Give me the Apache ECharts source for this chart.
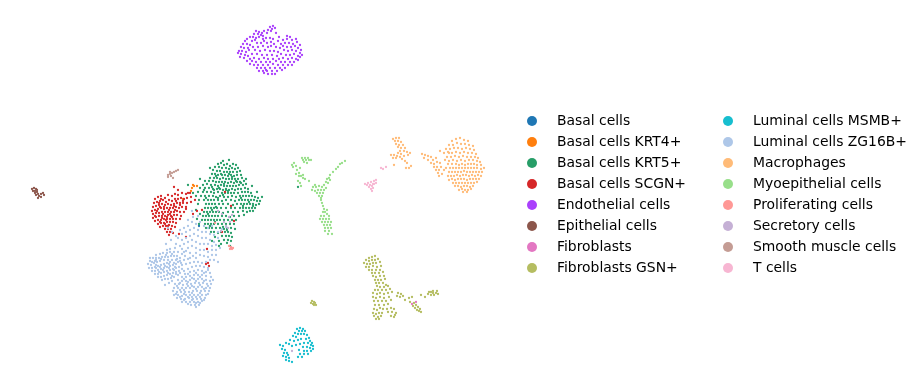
<!DOCTYPE html>
<html>
<head>
<meta charset="utf-8">
<script src="https://cdn.jsdelivr.net/npm/echarts@6/dist/echarts.min.js"></script>
<style>html,body{margin:0;background:#fff}#main{width:922px;height:389px}</style>
</head>
<body>
<div id="main"></div>
<script>
var names = ['Basal cells','Basal cells KRT4+','Basal cells KRT5+','Basal cells SCGN+','Endothelial cells','Epithelial cells','Fibroblasts','Fibroblasts GSN+','Luminal cells MSMB+','Luminal cells ZG16B+','Macrophages','Myoepithelial cells','Proliferating cells','Secretory cells','Smooth muscle cells','T cells'];
var colors = ['#1f77b4','#ff7f0e','#279e68','#d62728','#aa40fc','#8c564b','#e377c2','#b5bd61','#17becf','#aec7e8','#ffbb78','#98df8a','#ff9896','#c5b0d5','#c49c94','#f7b6d2'];

// points, one list per cell type (umap position in picture units)
var basal = [[199,226]];
var krt4 = [[194,186],[192,188],[197,186],[191,191],[193,185],[183,199]];
var krt5 = [[218,164],[221,163],[224,165],[227,164],[230,166],[233,164],[236,165],[215,167],[219,167],[222,168],[226,168],[229,169],[232,168],[235,169],[238,168],[213,170],[217,171],[220,171],[224,172],[227,172],[230,172],[233,172],[237,172],[240,171],[212,174],[215,174],[218,175],[222,175],[225,175],[228,176],[231,175],[234,176],[237,175],[241,175],[210,178],[214,178],[217,178],[220,179],[223,178],[226,179],[229,179],[232,179],[235,179],[238,179],[242,178],[205,181],[209,181],[213,181],[216,182],[219,182],[222,182],[225,182],[228,183],[231,182],[234,183],[237,182],[240,182],[244,181],[203,185],[207,184],[211,185],[215,185],[218,186],[221,185],[224,186],[227,186],[230,186],[233,186],[236,186],[239,185],[243,185],[246,184],[200,188],[205,188],[209,188],[213,189],[217,189],[220,189],[223,190],[226,189],[229,190],[232,189],[235,190],[238,189],[241,189],[245,188],[248,189],[198,192],[203,192],[207,192],[211,192],[214,193],[218,192],[222,193],[225,193],[228,193],[231,193],[234,193],[238,193],[242,192],[245,192],[248,192],[251,193],[196,196],[201,196],[205,196],[209,196],[213,196],[216,197],[220,196],[224,197],[228,197],[232,196],[236,197],[240,196],[243,196],[246,196],[249,196],[252,196],[255,197],[258,198],[199,200],[204,200],[208,200],[211,200],[214,200],[218,200],[222,201],[226,200],[231,200],[235,201],[239,200],[242,200],[245,200],[248,200],[251,200],[254,200],[257,201],[260,201],[206,204],[209,204],[212,204],[215,204],[219,204],[223,204],[228,204],[233,205],[237,204],[241,204],[244,204],[247,204],[250,204],[253,204],[256,205],[259,204],[205,208],[208,208],[211,208],[214,208],[217,208],[221,208],[226,208],[231,208],[235,208],[240,208],[243,208],[246,208],[249,208],[252,208],[255,208],[204,212],[207,212],[210,212],[213,212],[216,212],[219,212],[223,213],[228,212],[233,212],[238,212],[243,211],[247,212],[250,211],[253,211],[203,216],[206,216],[209,216],[212,216],[215,216],[218,216],[222,216],[226,216],[230,217],[234,216],[239,216],[244,215],[202,220],[205,220],[208,220],[211,220],[214,220],[217,220],[220,220],[224,220],[228,220],[232,220],[236,220],[205,224],[208,224],[211,224],[214,224],[218,224],[222,224],[226,224],[230,224],[234,224],[206,228],[209,228],[212,228],[216,228],[220,228],[224,229],[227,228],[231,228],[235,229],[211,232],[214,232],[218,233],[221,232],[225,232],[228,232],[231,233],[222,236],[226,236],[229,236],[232,237],[215,237],[224,240],[228,240],[231,241],[227,243],[212,241],[219,241],[221,244],[204,190],[198,204],[196,210],[200,214],[197,219],[199,224],[230,246],[219,246],[193,193],[188,185],[200,179],[210,168],[246,179],[252,186],[257,192],[262,197],[226,190],[223,195],[216,207],[241,183],[206,198],[212,187],[229,160],[223,161],[298,187],[216,176],[221,174],[232,177],[229,174],[236,181],[224,184],[219,188],[228,191],[241,198],[249,202],[253,206],[243,206],[212,210],[208,214],[215,222],[210,226],[227,230],[223,227],[218,198],[214,190]];
var scgn = [[155,199],[158,197],[161,196],[165,198],[168,195],[172,196],[175,194],[178,195],[182,193],[186,194],[190,193],[154,203],[157,202],[160,201],[163,200],[166,202],[169,200],[172,201],[175,199],[178,199],[181,198],[184,199],[187,198],[191,197],[195,200],[153,207],[156,206],[159,205],[162,204],[165,205],[168,204],[171,205],[174,204],[177,203],[180,203],[183,203],[187,203],[191,202],[152,211],[155,210],[158,209],[161,208],[164,209],[167,208],[170,208],[173,208],[176,207],[179,208],[182,207],[186,207],[153,214],[156,213],[159,213],[162,212],[165,212],[168,212],[171,212],[174,212],[177,211],[180,212],[184,212],[153,218],[156,217],[159,216],[162,216],[165,216],[168,215],[171,216],[174,215],[177,215],[181,216],[155,221],[158,220],[161,220],[164,219],[167,219],[170,219],[173,219],[176,219],[180,219],[158,224],[161,223],[164,223],[167,222],[170,222],[173,222],[176,223],[160,227],[163,226],[166,226],[169,225],[172,226],[175,227],[165,229],[168,229],[171,229],[167,232],[170,232],[173,233],[169,235],[179,234],[186,209],[193,214],[197,211],[202,210],[188,193],[178,190],[174,187],[161,199],[169,210],[163,214],[157,211],[172,217],[166,220],[207,249],[208,263],[206,264],[209,266],[186,237],[168,226],[162,218],[175,210],[180,205],[160,207],[222,232],[231,206],[234,221],[225,192],[159,203],[164,207],[170,214],[155,216],[160,222],[167,217],[174,206],[183,201],[176,201],[165,224]];
var endo = [[270,27],[273,26],[272,29],[268,30],[275,28],[271,31],[256,31],[259,32],[262,33],[258,34],[264,31],[254,34],[261,35],[267,33],[276,33],[263,36],[250,37],[253,37],[256,38],[259,37],[263,39],[247,39],[245,41],[266,38],[270,38],[273,39],[279,37],[287,36],[290,37],[283,40],[287,39],[292,40],[296,39],[255,40],[252,41],[278,41],[243,44],[247,44],[250,45],[257,43],[261,43],[267,43],[271,42],[274,44],[281,44],[285,43],[289,43],[293,44],[297,42],[300,45],[241,47],[244,48],[253,47],[258,47],[263,46],[268,47],[276,47],[280,48],[283,46],[287,47],[291,47],[295,46],[298,48],[301,50],[239,51],[242,51],[246,52],[249,50],[255,50],[260,51],[265,50],[270,51],[274,51],[278,52],[284,50],[288,51],[292,50],[296,51],[300,53],[302,55],[238,53],[241,54],[245,55],[248,56],[252,54],[257,54],[262,55],[267,55],[272,55],[277,56],[281,54],[286,55],[290,55],[294,54],[298,56],[240,57],[244,58],[250,59],[254,58],[259,59],[264,58],[268,59],[273,59],[279,59],[283,58],[288,59],[292,58],[296,59],[300,57],[247,61],[252,61],[256,62],[261,62],[266,62],[270,62],[276,61],[281,62],[285,62],[290,62],[294,62],[298,60],[250,64],[254,65],[258,65],[263,65],[268,65],[273,64],[278,65],[283,65],[288,65],[292,65],[257,68],[261,68],[265,68],[270,68],[275,68],[280,68],[285,68],[259,71],[263,71],[267,71],[272,71],[277,71],[282,70],[264,73],[268,74],[272,74],[275,74],[266,70],[271,46],[248,48],[264,41]];
var epi = [[32,189],[34,188],[36,189],[33,191],[35,191],[37,190],[35,193],[37,192],[38,194],[36,195],[39,196],[41,194],[43,193],[44,195],[41,197],[38,198]];
var fibro = [[416,302],[412,304],[231,248]];
var gsn = [[369,258],[372,257],[375,256],[366,260],[369,261],[372,260],[375,260],[378,259],[364,263],[367,264],[370,264],[373,263],[376,263],[380,262],[366,267],[369,267],[373,266],[377,267],[381,266],[369,270],[372,270],[376,270],[380,270],[383,272],[372,273],[375,273],[379,273],[373,276],[376,277],[380,276],[384,276],[375,280],[378,280],[381,280],[385,279],[376,283],[379,283],[383,283],[386,285],[377,286],[380,287],[384,287],[388,286],[375,290],[378,290],[382,290],[386,290],[390,289],[373,293],[377,294],[380,293],[384,294],[388,293],[392,292],[398,293],[401,294],[397,296],[400,297],[403,296],[373,297],[376,298],[380,297],[384,298],[389,297],[374,301],[378,301],[382,301],[386,301],[391,300],[375,305],[379,305],[384,305],[388,304],[374,309],[377,310],[380,308],[383,309],[387,309],[391,308],[394,309],[373,313],[376,314],[379,313],[382,313],[388,312],[392,312],[396,313],[374,316],[378,317],[381,316],[391,316],[394,317],[376,319],[379,319],[395,315],[405,300],[409,298],[412,297],[410,302],[414,303],[413,306],[416,305],[415,308],[418,307],[417,310],[419,311],[421,312],[420,309],[425,297],[428,294],[431,292],[433,291],[436,293],[434,295],[437,291],[431,295],[429,292],[438,294],[433,293],[421,295],[312,301],[314,302],[313,304],[315,303],[311,303],[314,305],[316,305]];
var msmb = [[297,329],[300,328],[303,329],[299,331],[302,331],[305,331],[295,333],[298,334],[301,334],[304,334],[293,336],[296,337],[307,335],[309,338],[290,340],[294,341],[298,340],[301,339],[306,339],[310,341],[312,343],[286,343],[289,344],[296,345],[300,344],[304,343],[308,343],[311,345],[313,346],[280,345],[283,346],[292,346],[303,347],[307,347],[310,348],[313,349],[282,349],[285,350],[299,350],[304,351],[307,351],[311,351],[284,353],[287,353],[300,354],[304,354],[308,354],[283,356],[286,357],[289,358],[298,357],[302,357],[286,360],[289,361],[292,362],[288,355]];
var zg16b = [[150,261],[148,264],[151,265],[154,263],[157,262],[149,268],[152,268],[155,267],[158,266],[161,265],[164,264],[167,263],[170,262],[152,271],[155,271],[158,270],[161,269],[164,268],[167,267],[170,266],[173,265],[176,264],[155,274],[158,274],[161,273],[164,272],[167,271],[170,270],[173,269],[176,268],[179,267],[182,265],[158,277],[161,277],[164,276],[167,275],[170,274],[173,273],[176,272],[179,271],[162,280],[165,279],[168,279],[171,278],[174,277],[153,258],[156,258],[159,258],[162,257],[165,257],[168,257],[171,256],[174,256],[177,256],[180,258],[156,255],[160,254],[163,253],[167,253],[170,252],[174,252],[178,252],[182,254],[185,256],[165,285],[169,283],[172,281],[160,261],[164,260],[168,260],[172,260],[176,260],[180,261],[184,260],[188,259],[156,260],[167,250],[175,248],[182,249],[186,251],[190,253],[193,256],[196,258],[174,270],[178,275],[182,269],[186,264],[190,263],[194,262],[198,262],[202,263],[206,262],[192,267],[196,266],[200,266],[204,267],[208,268],[188,269],[190,272],[194,271],[198,270],[202,271],[206,272],[210,273],[185,274],[182,277],[186,277],[190,276],[194,275],[198,275],[202,275],[206,276],[211,277],[178,280],[182,281],[186,281],[190,280],[194,279],[198,279],[202,279],[206,280],[210,281],[213,280],[175,284],[179,284],[183,285],[187,284],[191,284],[195,283],[199,283],[203,283],[207,284],[211,284],[174,288],[178,288],[182,288],[186,288],[190,288],[194,287],[198,287],[202,287],[206,288],[210,288],[173,291],[177,292],[181,292],[185,292],[189,292],[193,291],[197,291],[201,291],[205,291],[209,291],[174,295],[178,295],[182,296],[186,295],[190,295],[194,295],[198,295],[202,295],[206,295],[177,298],[181,299],[185,299],[189,298],[193,299],[197,299],[201,299],[205,298],[182,302],[186,302],[190,302],[194,302],[198,302],[202,301],[191,305],[195,305],[199,305],[196,307],[168,228],[172,232],[176,236],[171,240],[166,244],[180,230],[184,228],[188,226],[192,222],[196,224],[200,222],[204,226],[208,228],[212,226],[178,238],[182,234],[186,232],[190,230],[194,228],[198,230],[202,232],[206,232],[210,234],[214,235],[218,232],[222,229],[226,227],[182,240],[186,238],[190,236],[194,234],[198,236],[202,238],[206,238],[210,240],[214,242],[218,238],[176,244],[180,246],[184,244],[188,242],[192,240],[196,242],[200,244],[204,244],[208,244],[212,246],[216,245],[170,249],[188,248],[192,246],[196,248],[200,250],[204,250],[208,252],[212,250],[216,250],[220,248],[184,252],[196,253],[200,255],[204,256],[208,257],[212,255],[216,255],[190,258],[210,260],[214,260],[218,262],[156,268],[150,258],[192,211],[198,216],[188,220],[193,217],[152,262],[156,265],[160,267],[165,266],[169,264],[174,263],[178,262],[163,270],[168,273],[172,276],[176,274],[159,272],[155,261],[161,259],[166,255],[172,254],[177,259],[181,263],[169,268],[175,267],[180,273],[184,271],[188,274],[192,278],[196,273],[200,277],[204,273],[208,270],[184,279],[180,283],[188,282],[192,286],[196,281],[200,285],[204,281],[208,286],[177,286],[184,290],[188,286],[180,290],[176,294],[192,293],[196,289],[200,293],[204,289],[208,294],[184,294],[188,297],[192,297],[196,297],[200,297],[180,297],[184,300],[188,304],[192,300],[196,303],[200,303],[204,300]];
var macro = [[452,141],[456,139],[460,138],[464,140],[468,141],[449,145],[453,145],[457,143],[461,144],[465,144],[469,145],[473,146],[446,149],[450,149],[454,148],[458,148],[462,149],[466,148],[470,149],[474,150],[444,153],[448,152],[452,153],[456,152],[460,153],[464,152],[468,153],[472,153],[476,154],[447,157],[451,157],[455,156],[459,157],[463,156],[467,157],[471,157],[475,157],[478,158],[445,160],[449,161],[453,160],[457,161],[461,160],[465,161],[469,160],[473,160],[477,161],[480,162],[448,164],[452,164],[456,164],[459,165],[462,164],[465,165],[468,164],[471,164],[474,164],[477,165],[481,165],[450,168],[453,168],[456,168],[459,168],[462,168],[465,168],[468,168],[471,168],[474,168],[477,168],[481,169],[484,168],[449,172],[452,172],[455,172],[458,172],[461,172],[464,171],[467,172],[470,172],[473,172],[476,172],[479,172],[482,172],[448,176],[451,176],[454,176],[457,175],[460,176],[463,175],[466,175],[469,176],[472,175],[475,176],[478,175],[481,176],[449,180],[452,179],[455,180],[458,179],[461,179],[464,179],[467,180],[470,179],[473,179],[476,179],[479,179],[453,183],[456,183],[459,183],[462,183],[465,183],[468,183],[471,183],[474,183],[477,182],[455,186],[458,186],[461,187],[464,186],[467,186],[470,187],[473,186],[459,190],[462,189],[465,190],[468,190],[471,189],[463,192],[467,192],[422,154],[425,155],[428,156],[431,157],[424,158],[428,160],[433,160],[436,158],[431,163],[434,164],[437,162],[440,163],[434,167],[437,167],[441,167],[436,170],[439,170],[444,170],[438,173],[442,174],[439,176],[446,168],[449,153],[440,151],[393,139],[396,138],[399,138],[395,141],[398,141],[401,142],[396,144],[399,145],[403,145],[398,147],[401,148],[405,148],[400,151],[404,151],[398,153],[401,154],[407,152],[410,153],[391,155],[394,155],[397,156],[400,157],[404,156],[408,155],[393,158],[396,158],[402,159],[405,161],[394,165],[407,163],[411,166],[409,168],[406,168]];
var myo = [[292,165],[294,163],[296,166],[293,167],[302,158],[305,158],[308,158],[303,160],[306,160],[309,160],[304,162],[307,163],[311,160],[297,170],[300,168],[296,174],[299,173],[301,176],[303,175],[299,176],[303,178],[305,179],[298,181],[300,183],[301,186],[309,181],[345,161],[342,163],[340,164],[338,167],[336,169],[333,172],[330,175],[329,178],[327,179],[330,180],[326,182],[328,183],[324,185],[315,185],[313,187],[316,187],[319,186],[322,187],[312,190],[315,191],[318,190],[321,190],[324,190],[317,193],[320,193],[323,193],[319,196],[322,196],[326,188],[321,198],[321,200],[322,203],[323,206],[324,209],[323,212],[325,212],[327,210],[321,216],[324,216],[327,214],[329,216],[320,219],[323,219],[326,219],[329,219],[322,222],[325,222],[328,222],[331,222],[324,225],[327,225],[330,225],[325,228],[328,228],[331,228],[325,231],[329,231],[332,234],[328,234]];
var prolif = [[231,247],[229,246],[232,249],[233,248],[230,249],[215,223]];
var secretory = [[229,217],[232,215],[226,226],[228,228],[221,231],[230,222],[224,222],[292,351],[222,214],[218,211]];
var smooth = [[168,175],[170,174],[172,173],[171,176],[174,172],[176,171],[178,170],[168,177],[173,178],[170,172]];
var tcells = [[365,184],[368,183],[371,182],[374,181],[376,180],[370,185],[373,184],[376,183],[369,187],[372,186],[374,184],[371,189],[373,188],[372,191],[367,185],[381,168],[383,169],[386,167]];
var pts = [basal, krt4, krt5, scgn, endo, epi, fibro, gsn, msmb, zg16b, macro, myo, prolif, secretory, smooth, tcells];

var myChart = echarts.init(document.getElementById('main'));

var series = names.map(function (n, i) {
    return {name: n, type: 'scatter', data: pts[i], symbolSize: 2.3, itemStyle: {color: colors[i], opacity: 1}};
});

function legend(left, data) {
    return {
        orient: 'vertical', left: left, top: 114, data: data, icon: 'circle',
        itemWidth: 10, itemHeight: 10, itemGap: 7, selectedMode: false, padding: 0,
        itemStyle: {opacity: 1},
        textStyle: {fontFamily: 'DejaVu Sans', fontSize: 13.9, lineHeight: 14, color: '#000', padding: [0, 0, 0, 15]}
    };
}

myChart.setOption({
    animation: false,
    grid: {left: 0, top: 0, width: 500, height: 389},
    xAxis: {type: 'value', min: 0, max: 500, show: false},
    yAxis: {type: 'value', min: 0, max: 389, inverse: true, show: false},
    legend: [legend(527, names.slice(0, 8)), legend(723, names.slice(8))],
    series: series
});
</script>
</body>
</html>
